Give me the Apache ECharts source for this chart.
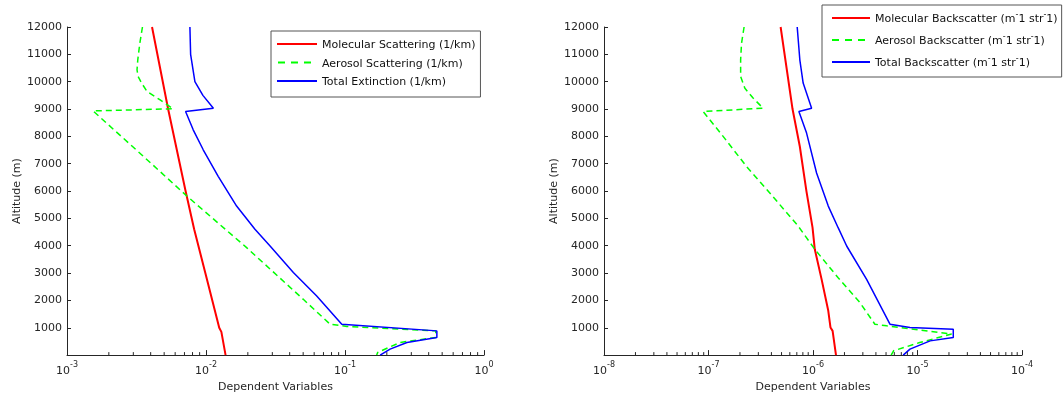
<!DOCTYPE html>
<html><head><meta charset="utf-8">
<script src="https://cdn.jsdelivr.net/npm/echarts@6/dist/echarts.min.js"></script>
<style>html,body{margin:0;padding:0;background:#fff}#c{width:1063px;height:398px}</style>
</head><body><div id="c"></div><script>
// ---------- DATA (altitude in m) ----------
const yTicks = [1000,2000,3000,4000,5000,6000,7000,8000,9000,10000,11000,12000];
const leftDecades = [1e-3, 1e-2, 1e-1, 1];
const rightDecades = [1e-8, 1e-7, 1e-6, 1e-5, 1e-4];
const minorMultipliers = [2,3,4,5,6,7,8,9];

// Left: extinction / scattering (1/km)
const molScatAlt = [12000, 9000, 6000, 4600, 3000, 1000, 850, 0];
const molScatVal = [0.00409, 0.00534, 0.00713, 0.00822, 0.00989, 0.01245, 0.0129, 0.01383];

const aerScatAlt = [12000, 11400, 10800, 10430, 10190, 9950, 9640, 9340, 9010, 8930, 7330, 5810, 3930, 2040, 1130, 1050, 886, 645, 463, 100, 0];
const aerScatVal = [0.00349, 0.00334, 0.00323, 0.00319, 0.00325, 0.00344, 0.00377, 0.00465, 0.0058, 0.00154, 0.00344, 0.00731, 0.0196, 0.0501, 0.0781, 0.103, 0.45, 0.45, 0.249, 0.172, 0.169];

const totExtAlt = [12000, 11000, 10000, 9500, 9030, 8910, 8240, 7510, 6540, 5450, 4600, 3990, 3020, 2160, 1130, 886, 645, 463, 219, 0];
const totExtVal = [0.00766, 0.00775, 0.00832, 0.0095, 0.0113, 0.00713, 0.00809, 0.00955, 0.01224, 0.0166, 0.0225, 0.0289, 0.0425, 0.0626, 0.0948, 0.458, 0.458, 0.279, 0.211, 0.179];

// Right: backscatter (m^-1 str^-1)
const molBackAlt = [12000, 9000, 7630, 6000, 4660, 3870, 2770, 1620, 1010, 886, 0];
const molBackVal = [4.9e-7, 6.37e-7, 7.48e-7, 8.65e-7, 9.9e-7, 1.04e-6, 1.209e-6, 1.40e-6, 1.47e-6, 1.54e-6, 1.66e-6];

const aerBackAlt = [12000, 11400, 10800, 10190, 9760, 9400, 9030, 8910, 8000, 6900, 5930, 4720, 3870, 2830, 1920, 1130, 1070, 770, 460, 157, 0];
const aerBackVal = [2.19e-7, 2.07e-7, 2.03e-7, 2.03e-7, 2.23e-7, 2.67e-7, 3.33e-7, 8.88e-8, 1.38e-7, 2.31e-7, 3.86e-7, 7.21e-7, 1.04e-6, 1.74e-6, 2.81e-6, 3.91e-6, 5.07e-6, 2.12e-5, 1.05e-5, 5.9e-6, 5.6e-6];

const totBackAlt = [12000, 10800, 9950, 9030, 8910, 8120, 6660, 5450, 4660, 3990, 2770, 1130, 1010, 948, 645, 520, 219, 0];
const totBackVal = [7.06e-7, 7.48e-7, 8.05e-7, 9.70e-7, 7.33e-7, 8.68e-7, 1.082e-6, 1.40e-6, 1.74e-6, 2.10e-6, 3.26e-6, 5.45e-6, 8.47e-6, 2.2e-5, 2.2e-5, 1.32e-5, 8.47e-6, 7.3e-6];

const leftNames = ['Molecular Scattering (1/km)', 'Aerosol Scattering (1/km)', 'Total Extinction (1/km)'];
const rightNames = ['Molecular Backscatter (m^-1 str^-1)', 'Aerosol Backscatter (m^-1 str^-1)', 'Total Backscatter (m^-1 str^-1)'];

// ---------- BUILD ----------
const pairs = (vals, alts) => vals.map((v, i) => [v, alts[i]]);
const minorTicks = (decades) => {
  const out = [];
  for (let i = 0; i < decades.length - 1; i++) minorMultipliers.forEach(m => out.push([decades[i] * m, 0]));
  return out;
};
const FONT = "'DejaVu Sans', 'Liberation Sans', Arial, sans-serif";
const INK = '#262626';
const SOLID_ICON = 'path://M0,0h40v2h-40z';
const DASH_ICON = 'path://M2,0h7v2h-7z M15,0h7v2h-7z M28,0h7v2h-7z M40,0h0.01v2h-0.01z';

const xAxisBase = (min, max) => ({
  type: 'log', logBase: 10, min: min, max: max,
  name: 'Dependent Variables', nameLocation: 'middle', nameGap: 26,
  nameTextStyle: { fontFamily: FONT, fontSize: 11, color: INK },
  axisLine: { show: true, lineStyle: { color: INK, width: 1 } },
  axisTick: { show: true, inside: true, length: 5, lineStyle: { color: INK } },
  splitLine: { show: false },
  minorTick: { show: false },
  axisLabel: {
    margin: 6, color: INK, fontFamily: FONT,
    formatter: v => '{b|10}{s|' + Math.round(Math.log10(v)) + '}',
    rich: {
      b: { fontSize: 11, lineHeight: 16, verticalAlign: 'bottom', fontFamily: FONT, color: INK },
      s: { fontSize: 8, lineHeight: 16, verticalAlign: 'top', fontFamily: FONT, color: INK }
    }
  }
});
const yAxisBase = () => ({
  type: 'value', min: 0, max: 12000, interval: 1000,
  name: 'Altitude (m)', nameLocation: 'middle', nameGap: 44, nameRotate: 90,
  nameTextStyle: { fontFamily: FONT, fontSize: 11, color: INK },
  axisLine: { show: true, lineStyle: { color: INK, width: 1 } },
  axisTick: { show: true, inside: true, length: 4, lineStyle: { color: INK } },
  splitLine: { show: false },
  axisLabel: { margin: 5, color: INK, fontFamily: FONT, fontSize: 11, formatter: v => (v === 0 ? '' : String(v)) }
});

const lineSeries = (name, data, color, width, dashed, idx) => ({
  name: name, type: 'line', data: data, xAxisIndex: idx, yAxisIndex: idx,
  symbol: 'none', showSymbol: false, animation: false,
  lineStyle: { color: color, width: width, type: dashed ? [6, 4] : 'solid' },
  itemStyle: { color: color }, z: 3
});
const tickSeries = (decades, idx) => ({
  type: 'custom', xAxisIndex: idx, yAxisIndex: idx, data: minorTicks(decades),
  silent: true, clip: false, animation: false, z: 5,
  renderItem: (params, api) => {
    const p = api.coord([api.value(0), api.value(1)]);
    return { type: 'line', shape: { x1: p[0], y1: p[1], x2: p[0], y2: p[1] - 3 }, style: { stroke: INK, lineWidth: 1 } };
  }
});

const legendRich = {
  t: { fontSize: 11, fontFamily: FONT, color: '#111', lineHeight: 14, verticalAlign: 'bottom' },
  s: { fontSize: 8, fontFamily: FONT, color: '#111', lineHeight: 14, verticalAlign: 'top' }
};
const legendFmt = name => {
  const parts = name.split('^');
  let out = '{t|' + parts[0] + '}';
  for (let i = 1; i < parts.length; i++) {
    out += '{s|' + parts[i].charAt(0) + '}{t|' + parts[i].slice(1) + '}';
  }
  return out;
};
const legendData = names => names.map((n, i) => ({ name: n, icon: i === 1 ? DASH_ICON : SOLID_ICON }));

const option = {
  backgroundColor: '#fff',
  animation: false,
  textStyle: { fontFamily: FONT },
  grid: [
    { left: 67, top: 27, width: 417, height: 329 },
    { left: 604, top: 27, width: 418, height: 329 }
  ],
  xAxis: [xAxisBase(1e-3, 1), Object.assign(xAxisBase(1e-8, 1e-4), { gridIndex: 1 })],
  yAxis: [yAxisBase(), Object.assign(yAxisBase(), { gridIndex: 1 })],
  legend: [
    {
      data: legendData(leftNames), left: 271, top: 31, orient: 'vertical',
      itemWidth: 40, itemHeight: 2, itemGap: 7.5, padding: [9, 5, 9, 6],
      borderColor: '#555', borderWidth: 1, backgroundColor: '#fff',
      formatter: legendFmt, textStyle: { rich: legendRich, fontSize: 11, color: '#111', fontFamily: FONT }
    },
    {
      data: legendData(rightNames), left: 822, top: 5, orient: 'vertical',
      itemWidth: 38, itemHeight: 2, itemGap: 8, padding: [6, 4, 8, 10],
      borderColor: '#555', borderWidth: 1, backgroundColor: '#fff',
      formatter: legendFmt, textStyle: { rich: legendRich, fontSize: 11, color: '#111', fontFamily: FONT }
    }
  ],
  series: [
    lineSeries(leftNames[0], pairs(molScatVal, molScatAlt), '#ff0000', 2, false, 0),
    lineSeries(leftNames[1], pairs(aerScatVal, aerScatAlt), '#00ff00', 1.5, true, 0),
    lineSeries(leftNames[2], pairs(totExtVal, totExtAlt), '#0000ff', 1.5, false, 0),
    lineSeries(rightNames[0], pairs(molBackVal, molBackAlt), '#ff0000', 2, false, 1),
    lineSeries(rightNames[1], pairs(aerBackVal, aerBackAlt), '#00ff00', 1.5, true, 1),
    lineSeries(rightNames[2], pairs(totBackVal, totBackAlt), '#0000ff', 1.5, false, 1),
    tickSeries(leftDecades, 0),
    tickSeries(rightDecades, 1)
  ]
};
const chart = echarts.init(document.getElementById('c'), null, { renderer: 'canvas' });
chart.setOption(option);
</script></body></html>
